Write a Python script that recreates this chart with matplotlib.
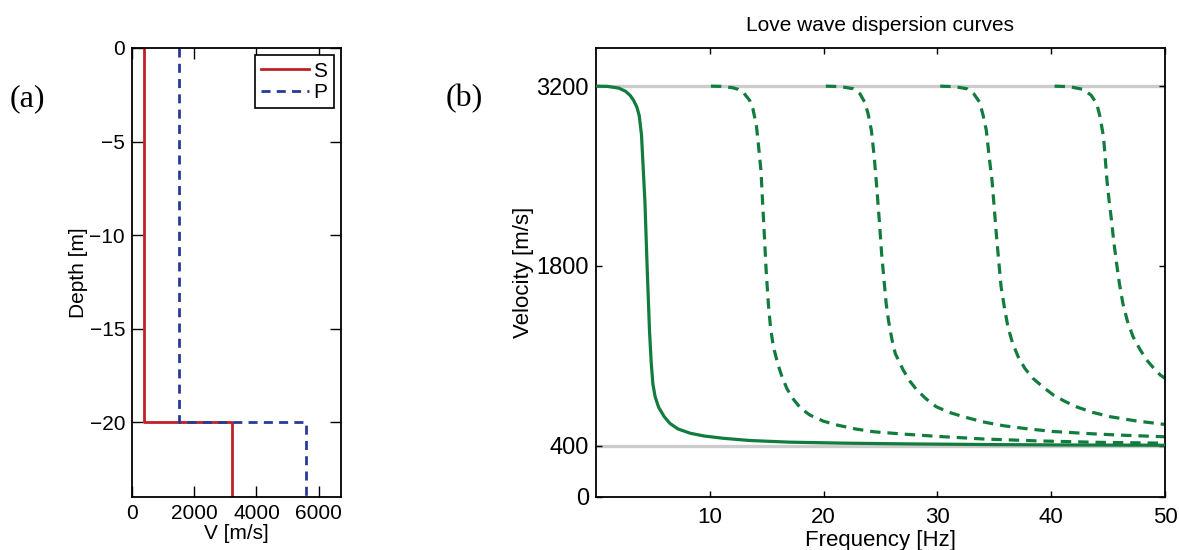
import matplotlib
matplotlib.use("Agg")
import matplotlib.pyplot as plt

plt.rcParams["font.family"] = ["Liberation Sans", "DejaVu Sans"]
plt.rcParams["lines.scale_dashes"] = False

# (a) layered velocity profile
depth = [0, -20, -20, -24]
vs = [400, 400, 3200, 3200]
vp = [1500, 1500, 5600, 5600]

# (b) Love wave dispersion curves
f0 = [0, 1.0, 2.0, 2.6, 3.0, 3.3, 3.6, 3.8, 4.0, 4.15, 4.3, 4.5, 4.7, 4.85, 5.0, 5.2,
      5.5, 6.0, 6.5, 7.2, 8.3, 9.5, 11.2, 13.5, 17, 22, 28, 35, 42, 50]
v0 = [3200, 3198, 3185, 3160, 3128, 3090, 3035, 2970, 2820, 2560, 2300, 1780, 1300, 1050, 880, 780,
      700, 625, 573, 530, 496, 475, 457, 440, 427, 419, 413, 408, 405, 403]

f1 = [10.1, 11.0, 12.0, 12.5, 13.0, 13.5, 13.8, 14.1, 14.3, 14.5, 14.65, 14.8, 14.95, 15.15, 15.35,
      15.6, 16.0, 16.35, 16.8, 17.4, 18.0, 18.8, 20, 21.2, 22.8, 24.4, 27, 30, 34, 38.7, 44, 50]
v1 = [3200, 3198, 3188, 3175, 3145, 3090, 3020, 2890, 2720, 2540, 2280, 2030, 1770, 1500, 1310,
      1165, 1030, 935, 840, 755, 690, 638, 590, 560, 530, 508, 490, 472, 452, 437, 426, 419]

f2 = [20.2, 21.5, 22.6, 23.2, 23.6, 23.9, 24.2, 24.45, 24.67, 24.9, 25.1, 25.3, 25.5, 25.7, 26.0,
      26.3, 27.0, 27.6, 28.2, 29.0, 29.9, 31.0, 32.3, 34, 35.8, 38, 40.2, 43, 46, 50]
v2 = [3200, 3196, 3180, 3140, 3077, 2990, 2856, 2650, 2415, 2150, 1896, 1700, 1507, 1377, 1230,
      1118, 988, 900, 833, 765, 703, 660, 625, 585, 555, 530, 510, 495, 482, 469]

f3 = [30.25, 31.5, 32.6, 33.2, 33.7, 34.0, 34.3, 34.55, 34.8, 35.0, 35.2, 35.4, 35.6, 35.9, 36.2,
      36.6, 37.1, 37.7, 38.4, 39.3, 40.2, 41.2, 42.2, 43.6, 45.2, 47.5, 50]
v3 = [3200, 3196, 3180, 3140, 3077, 2980, 2856, 2650, 2467, 2250, 2026, 1830, 1637, 1470, 1325,
      1200, 1092, 1000, 924, 855, 794, 745, 703, 660, 625, 592, 565]

f4 = [40.3, 41.6, 42.8, 43.5, 44.0, 44.3, 44.6, 44.75, 44.9, 45.1, 45.3, 45.5, 45.75, 46.0, 46.3,
      46.7, 47.2, 47.8, 48.4, 49.0, 49.6, 50]
v4 = [3200, 3196, 3175, 3130, 3064, 2960, 2804, 2640, 2467, 2300, 2156, 1990, 1819, 1660, 1507,
      1370, 1247, 1150, 1066, 1005, 949, 925]

v_layer = 400
v_half = 3200

fig = plt.figure(figsize=(11.79, 5.5), dpi=100)
ax1 = fig.add_axes([0.112, 0.0964, 0.1773, 0.8164])
ax2 = fig.add_axes([0.5055, 0.0964, 0.4826, 0.817])

# ---- panel (a)
ax1.plot(vs, depth, color="#bf2026", lw=2.0, label="S")
ax1.plot(vp, depth, color="#283a96", lw=2.0, dashes=(6.5, 4.5), label="P")
ax1.set_xlim(0, 6720)
ax1.set_ylim(-24, 0)
ax1.set_xticks([0, 2000, 4000, 6000])
ax1.set_yticks([0, -5, -10, -15, -20])
ax1.set_xlabel("V [m/s]", fontsize=15, labelpad=1)
ax1.set_ylabel("Depth [m]", fontsize=15, labelpad=1)
ax1.tick_params(direction="in", top=True, right=True, length=8, width=1, labelsize=15, pad=5)
leg = ax1.legend(loc="upper right", fontsize=15, handlelength=2.3, handletextpad=0.2,
                 borderpad=0.3, labelspacing=0.12, fancybox=False, edgecolor="black",
                 borderaxespad=0.35, framealpha=1)
leg.get_frame().set_linewidth(1.2)

# ---- panel (b)
ax2.axhline(v_layer, color="#cccccc", lw=2.4, zorder=1)
ax2.axhline(v_half, color="#cccccc", lw=2.4, zorder=1)
green = "#117c3d"
ax2.plot(f0, v0, color=green, lw=2.3, zorder=3)
for f, v in [(f1, v1), (f2, v2), (f3, v3), (f4, v4)]:
    ax2.plot(f, v, color=green, lw=2.3, dashes=(7.5, 5.0), zorder=2)
ax2.set_xlim(0, 50)
ax2.set_ylim(0, 3500)
ax2.set_xticks([10, 20, 30, 40, 50])
ax2.set_yticks([0, 400, 1800, 3200])
ax2.set_xlabel("Frequency [Hz]", fontsize=16, labelpad=2)
ax2.set_ylabel("Velocity [m/s]", fontsize=16, labelpad=2)
ax2.set_title("Love wave dispersion curves", fontsize=15, pad=12)
ax2.tick_params(direction="in", top=True, right=True, length=4.5, width=1, labelsize=17, pad=5)
ax2.tick_params(axis="x", labelsize=16, pad=7)

for ax in (ax1, ax2):
    for s in ax.spines.values():
        s.set_linewidth(1.3)

fig.text(0.008, 0.82, "(a)", fontsize=23, family="Liberation Serif", va="center")
fig.text(0.378, 0.82, "(b)", fontsize=23, family="Liberation Serif", va="center")

fig.savefig("out.png", dpi=100)
